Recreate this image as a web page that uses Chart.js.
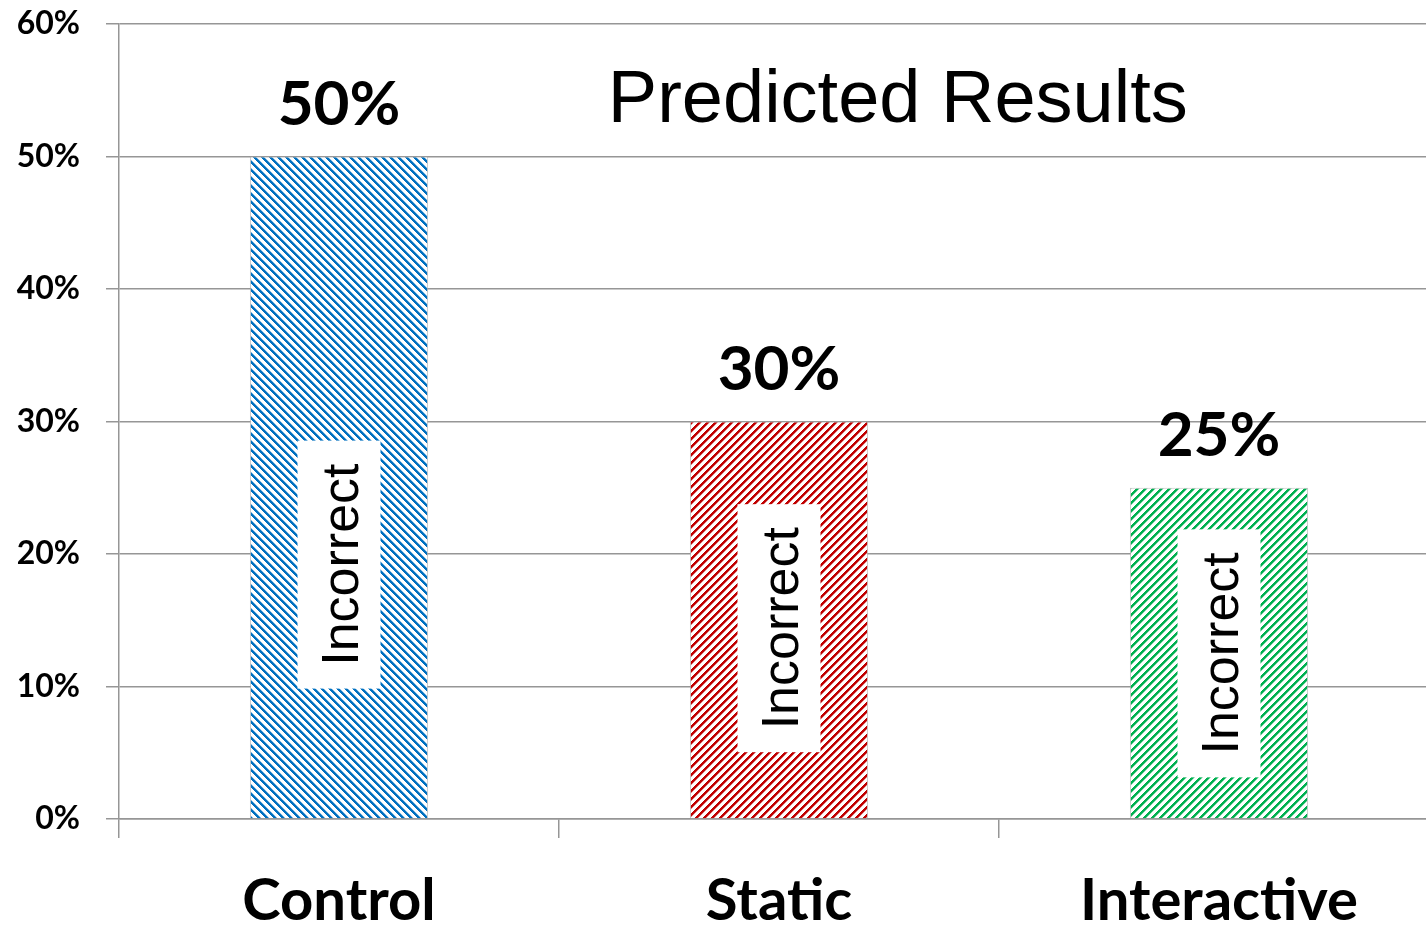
<!DOCTYPE html>
<html>
<head>
<meta charset="utf-8">
<title>Predicted Results</title>
<script src="https://cdn.jsdelivr.net/npm/chart.js@4.4.1/dist/chart.umd.min.js"></script>
<style>
  html, body { margin: 0; padding: 0; background: #fff; overflow: hidden; }
  #wrap { width: 1439px; height: 925px; }
</style>
</head>
<body>
<div id="wrap"><canvas id="chart" width="1439" height="925"></canvas></div>
<script>
// Chart data
const categories = ['Control', 'Static', 'Interactive'];
const incorrectRates = [50, 30, 25];            // percent of answers incorrect
const yTickValues = [0, 10, 20, 30, 40, 50, 60]; // percent gridlines
const chartTitle = 'Predicted Results';
const innerLabel = 'Incorrect';
const innerLabelCenters = [19.2, 14.4, 12.5];   // value (percent) at the middle of each inner label
const barColors = ['#0070C0', '#C00000', '#00B050'];
const hatchDirections = ['back', 'fwd', 'fwd'];

// Build an 8x8 diagonal hatch tile
function hatch(color, dir) {
  const c = document.createElement('canvas');
  c.width = 8; c.height = 8;
  const g = c.getContext('2d');
  g.fillStyle = '#fff';
  g.fillRect(0, 0, 8, 8);
  for (let y = 0; y < 8; y++) {
    for (let x = 0; x < 8; x++) {
      const k = dir === 'back' ? ((x - y) % 8 + 8) % 8 : (x + y) % 8;
      if (k < 3) {
        g.globalAlpha = 1;
        g.fillStyle = color;
        g.fillRect(x, y, 1, 1);
      } else if (k === 3) {
        g.globalAlpha = 0.45;
        g.fillStyle = color;
        g.fillRect(x, y, 1, 1);
      }
    }
  }
  return document.getElementById('chart').getContext('2d').createPattern(c, 'repeat');
}

const GRID = '#969696';

// Value labels, inner rotated labels and the title
const annotate = {
  id: 'annotate',
  afterDatasetsDraw(chart) {
    const { ctx, chartArea } = chart;
    const yScale = chart.scales.y;
    const meta = chart.getDatasetMeta(0);
    meta.data.forEach((bar, i) => {
      ctx.save();
      ctx.fillStyle = '#000';
      ctx.textAlign = 'center';
      ctx.textBaseline = 'alphabetic';
      ctx.font = 'bold 62px Lato';
      ctx.fillText(incorrectRates[i] + '%', bar.x, bar.y - 32);

      const cy = yScale.getPixelForValue(innerLabelCenters[i]);
      ctx.fillStyle = '#fff';
      ctx.fillRect(bar.x - 41.5, cy - 124, 83, 248);
      ctx.translate(bar.x, cy);
      ctx.rotate(-Math.PI / 2);
      ctx.fillStyle = '#000';
      ctx.font = '52px "Liberation Sans"';
      ctx.fillText(innerLabel, 0, 18.5);
      ctx.restore();
    });

    ctx.save();
    ctx.fillStyle = '#000';
    ctx.textAlign = 'center';
    ctx.textBaseline = 'alphabetic';
    ctx.font = '74px "Liberation Sans"';
    ctx.fillText(chartTitle, chartArea.left + 0.59 * (chartArea.right - chartArea.left), 122);
    ctx.restore();
  }
};

function draw() {
  const patterns = barColors.map((c, i) => hatch(c, hatchDirections[i]));
  new Chart(document.getElementById('chart'), {
    type: 'bar',
    data: {
      labels: categories,
      datasets: [{
        data: incorrectRates,
        backgroundColor: patterns,
        borderColor: 'rgba(170,170,170,0.7)',
        borderWidth: 1,
        barPercentage: 0.405,
        categoryPercentage: 1
      }]
    },
    options: {
      responsive: false,
      animation: false,
      devicePixelRatio: 1,
      layout: { padding: { top: 24, left: 0, right: 0, bottom: 0 } },
      plugins: { legend: { display: false }, tooltip: { enabled: false }, title: { display: false } },
      scales: {
        x: {
          grid: { offset: true, drawOnChartArea: false, drawTicks: true, tickLength: 19, color: GRID, lineWidth: 1.5 },
          border: { display: true, color: GRID, width: 1.5 },
          ticks: { color: '#000', font: { family: 'Lato', weight: 'bold', size: 58 }, padding: 28, maxRotation: 0 },
          afterFit(s) { s.height = 106; s.paddingLeft = 0; s.paddingRight = 0; }
        },
        y: {
          min: 0,
          max: 60,
          afterBuildTicks(s) { s.ticks = yTickValues.map(v => ({ value: v })); },
          grid: { color: GRID, lineWidth: 1.5, tickLength: 13 },
          border: { display: true, color: GRID, width: 1.5 },
          ticks: { color: '#000', font: { family: 'Lato', weight: 'bold', size: 32 }, padding: 26, callback: v => v + '%' },
          afterFit(s) { s.width = 119; s.paddingTop = 0; s.paddingBottom = 0; }
        }
      }
    },
    plugins: [annotate]
  });
}

Promise.all([
  document.fonts.load('bold 62px Lato'),
  document.fonts.load('52px "Liberation Sans"')
]).then(draw, draw);
</script>
</body>
</html>
